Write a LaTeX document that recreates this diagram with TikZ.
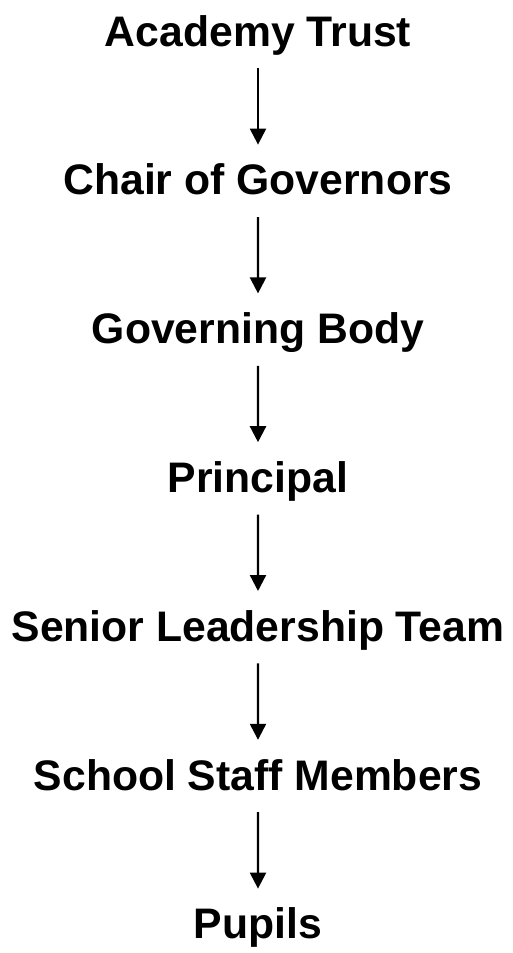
\documentclass[tikz,border=0pt]{standalone}
\usepackage{fontspec}
\setmainfont{Liberation Sans}
\usetikzlibrary{arrows.meta}

\begin{document}
\begin{tikzpicture}[every node/.style={font=\bfseries\fontsize{42.7}{50}\selectfont, inner sep=0pt, text height=31pt, text depth=9pt},%
        edge from parent/.style={draw, line width=2.3pt, -{Triangle[width=16pt,length=16pt]}, shorten <=13pt, shorten >=19pt},
        level distance=148.8pt]
        \useasboundingbox (0,0) rectangle (512pt,-953pt);
        \node (trust) at (258pt,-35pt) {Academy Trust}
        child { node (chair) {Chair of Governors}
                child { node (body) {Governing Body}
                        child { node (principal) {Principal}
                                child { node (slt) {Senior Leadership Team}
                                        child { node (staff) {School Staff Members}
                                                child { node (pupils) {Pupils}}
                                        }
                                }
                        }
                }
        };
    \end{tikzpicture}
\end{document}
